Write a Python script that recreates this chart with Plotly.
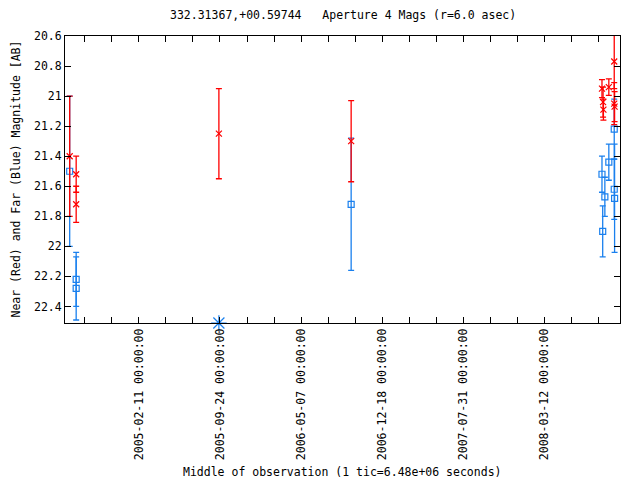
import datetime as dt
import plotly.graph_objects as go

# ---- data ----
red_dates = ["2004-08-03", "2004-08-21", "2004-08-21", "2005-09-21", "2006-09-23",
             "2008-08-19", "2008-08-22", "2008-08-23", "2008-09-07",
             "2008-09-22", "2008-09-22", "2008-09-23"]
red_mag = [21.40, 21.52, 21.72, 21.25, 21.30,
           20.95, 21.04, 21.09, 20.94,
           20.77, 21.05, 21.07]
red_err = [0.40, 0.12, 0.12, 0.30, 0.27,
           0.06, 0.10, 0.07, 0.055,
           0.18, 0.14, 0.10]

blue_dates = ["2004-08-03", "2004-08-21", "2004-08-21", "2006-09-23",
              "2008-08-19", "2008-08-21", "2008-08-27", "2008-09-07",
              "2008-09-22", "2008-09-22", "2008-09-23"]
blue_mag = [21.50, 22.22, 22.28, 21.72,
            21.52, 21.90, 21.67, 21.44,
            21.22, 21.62, 21.68]
blue_err = [0.50, 0.18, 0.21, 0.44,
            0.12, 0.17, 0.13, 0.12,
            0.20, 0.20, 0.36]

offscale_blue_dates = ["2005-09-21"]

x_label_dates = ["2005-02-11", "2005-09-24", "2006-05-07", "2006-12-18", "2007-07-31", "2008-03-12"]
y_ticks = [20.6, 20.8, 21.0, 21.2, 21.4, 21.6, 21.8, 22.0, 22.2, 22.4]
y_tick_text = ["20.6", "20.8", "21", "21.2", "21.4", "21.6", "21.8", "22", "22.2", "22.4"]

X_RANGE = ["2004-07-21", "2008-10-08"]
Y_MIN, Y_MAX = 22.51, 20.6
TIC_DAYS = 75  # 1 tic = 6.48e6 s

# tic positions every 75 days across the range; only some carry labels
start = dt.date(2005, 2, 11)
tick_vals, tick_text = [], []
for k in range(-3, 20):
    d = start + dt.timedelta(days=TIC_DAYS * k)
    if dt.date(2004, 7, 21) <= d <= dt.date(2008, 10, 8):
        s = d.isoformat()
        tick_vals.append(s)
        tick_text.append(s + " 00:00:00" if s in x_label_dates else "")

RED = "#ff0000"
BLUE = "#1a80ee"
FONT = "DejaVu Sans Mono"

fig = go.Figure()

fig.add_trace(go.Scatter(
    x=blue_dates, y=blue_mag, mode="markers",
    marker=dict(symbol="square-open", size=6, color=BLUE, line=dict(width=1.2, color=BLUE)),
    error_y=dict(type="data", array=blue_err, visible=True, color=BLUE, thickness=1.3, width=3),
    showlegend=False,
))
fig.add_trace(go.Scatter(
    x=red_dates, y=red_mag, mode="markers",
    marker=dict(symbol="x-thin-open", size=6, color=RED, line=dict(width=1.2, color=RED)),
    error_y=dict(type="data", array=red_err, visible=True, color=RED, thickness=1.3, width=3),
    showlegend=False,
))
fig.add_trace(go.Scatter(
    x=offscale_blue_dates, y=[Y_MIN] * len(offscale_blue_dates), mode="markers",
    marker=dict(symbol="asterisk-open", size=13, color=BLUE, line=dict(width=1.2, color=BLUE)),
    cliponaxis=False, showlegend=False,
))

axis_common = dict(
    showline=True, linecolor="black", linewidth=1, mirror="ticks",
    ticks="inside", ticklen=6, tickcolor="black", tickwidth=1,
    showgrid=False, zeroline=False,
    tickfont=dict(family=FONT, size=11.5, color="black"),
)

fig.update_xaxes(
    type="date", range=X_RANGE,
    tickmode="array", tickvals=tick_vals, ticktext=tick_text, tickangle=-90,
    **axis_common,
)
fig.update_yaxes(
    range=[Y_MIN, Y_MAX], tickmode="array", tickvals=y_ticks, ticktext=y_tick_text,
    **axis_common,
)

fig.update_layout(
    width=640, height=480,
    margin=dict(l=57, r=28, t=28, b=165, autoexpand=False),
    paper_bgcolor="white", plot_bgcolor="white",
    font=dict(family=FONT, size=11.5, color="black"),
    annotations=[
        dict(text="332.31367,+00.59744\u00a0\u00a0\u00a0Aperture 4 Mags (r=6.0 asec)",
             xref="paper", yref="paper", x=0.5, y=1, yshift=21, xanchor="center", yanchor="middle",
             showarrow=False, font=dict(family=FONT, size=11.5)),
        dict(text="Near (Red) and Far (Blue) Magnitude [AB]",
             xref="paper", yref="paper", x=0, xshift=-50, y=0.5, textangle=-90,
             xanchor="center", yanchor="middle", showarrow=False, font=dict(family=FONT, size=11.5)),
        dict(text="Middle of observation (1 tic=6.48e+06 seconds)",
             xref="paper", yref="paper", x=0.5, y=0, yshift=-149, xanchor="center", yanchor="middle",
             showarrow=False, font=dict(family=FONT, size=11.5)),
    ],
)

fig.write_html("out.html")
